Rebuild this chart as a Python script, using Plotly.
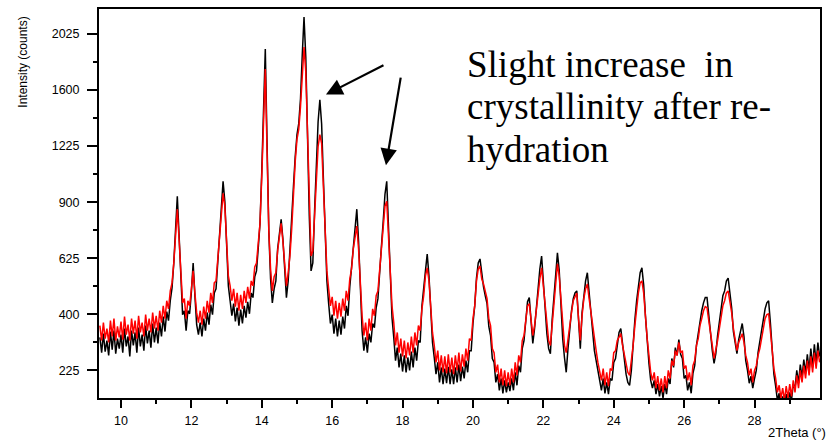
import numpy as np
import plotly.graph_objects as go

# 2-theta scan: start 9.40 deg, step 0.05 deg
SCAN_START = 9.40
SCAN_STEP = 0.05

# Intensity (counts), re-hydrated sample (red)
rehydrated_counts = [
    361, 312, 371, 318, 351, 306, 378, 325, 385, 312, 358, 322, 375, 315, 392, 331, 364, 312, 385, 334,
    378, 318, 395, 338, 371, 325, 399, 344, 385, 338, 406, 351, 395,
    344, 413, 371, 431, 385, 450, 420, 488, 520, 604, 742, 863, 714, 549, 442, 458, 385, 450, 431, 496,
    570, 480, 406, 371, 413, 364, 428, 385, 450, 406, 480, 442, 520, 528, 622, 681, 827, 948, 879, 704,
    549, 508, 450, 496, 428, 480, 413, 473, 420, 488, 442, 504, 458, 528, 508, 587, 604, 695, 791, 1043,
    1449, 1754, 1192, 752, 578, 488, 545, 562, 658, 714, 791, 704, 591, 508, 562, 635, 762, 959, 1131, 1267,
    1331, 1483, 1747, 1922, 1732, 1254, 853, 635, 658, 827, 1043, 1222, 1298, 1241, 987, 728, 570, 496, 431, 465,
    395, 450, 385, 442, 392, 458, 413, 488, 450, 536, 578, 667, 728, 777, 667, 508, 395, 328, 371, 312,
    385, 344, 420, 395, 469, 488, 578, 658, 777, 879, 905, 742, 570, 431, 371, 297, 338, 275, 318, 264,
    312, 258, 306, 267, 325, 275, 338, 297, 361, 344, 420, 469, 549, 583, 528, 431, 338, 297, 247, 281,
    225, 267, 220, 264, 217, 270, 220, 261, 215, 267, 225, 275, 222, 270, 235, 287, 252, 318, 312, 385,
    431, 528, 578, 591, 536, 516, 488, 458, 385, 361, 287, 275, 220, 241, 194, 230, 187, 225, 185, 220,
    187, 230, 194, 247, 212, 267, 247, 312, 328, 385, 431, 439, 385, 328, 361, 413, 488, 536, 583, 508,
    431, 361, 312, 297, 371, 442, 536, 600, 549, 450, 351, 297, 275, 318, 371, 406, 450, 469, 480, 385,
    312, 395, 458, 496, 516, 458, 406, 361, 312, 281, 247, 225, 199, 230, 187, 220, 185, 230, 225, 275,
    281, 312, 325, 334, 297, 267, 241, 220, 212, 247, 297, 361, 420, 480, 520, 528, 480, 385, 318, 267,
    220, 199, 220, 180, 210, 175, 204, 170, 210, 180, 225, 204, 252, 238, 281, 267, 306, 275, 281, 230,
    238, 199, 220, 187, 238, 252, 297, 318, 361, 385, 413, 428, 424, 378, 328, 297, 258, 281, 312, 351,
    385, 431, 450, 480, 488, 450, 406, 351, 312, 281, 306, 318, 334, 306, 267, 247, 212, 230, 194, 225,
    238, 267, 287, 318, 351, 385, 399, 402, 344, 287, 230, 204, 170, 187, 157, 180, 152, 185, 157, 190,
    161, 199, 170, 212, 180, 225, 194, 238, 204, 252, 212, 264, 220, 275, 230, 281, 247,
]

# Intensity (counts), sample before re-hydration (black)
original_counts = [
    322, 275, 334, 278, 312, 267, 341, 284, 344, 272, 318, 287, 331, 275, 351, 294, 325, 264, 344, 297,
    338, 275, 354, 294, 331, 281, 361, 303, 344, 290, 368, 306, 354,
    303, 371, 325, 392, 341, 410, 378, 450, 500, 604, 772, 932, 733, 528, 399, 413, 344, 413, 402, 484,
    604, 469, 364, 331, 371, 325, 385, 344, 406, 364, 435, 399, 480, 496, 609, 681, 853, 1015, 905, 690,
    508, 450, 395, 439, 375, 424, 361, 417, 368, 431, 388, 446, 402, 480, 462, 545, 570, 672, 791, 1073,
    1531, 1906, 1241, 752, 536, 442, 496, 528, 667, 728, 811, 714, 557, 462, 528, 649, 786, 987, 1161, 1298,
    1369, 1538, 1860, 2162, 1845, 1254, 827, 570, 604, 853, 1131, 1382, 1531, 1369, 1032, 728, 528, 439, 368, 399,
    334, 385, 325, 378, 331, 392, 351, 431, 395, 504, 591, 690, 767, 863, 704, 488, 344, 281, 322, 275,
    334, 306, 368, 354, 424, 458, 591, 681, 801, 943, 1015, 781, 570, 388, 322, 252, 290, 233, 272, 222,
    267, 220, 261, 225, 278, 233, 290, 252, 312, 306, 431, 488, 570, 644, 549, 420, 306, 261, 215, 247,
    194, 233, 190, 230, 192, 235, 190, 228, 190, 233, 194, 241, 197, 235, 204, 252, 220, 281, 281, 368,
    431, 540, 604, 622, 549, 504, 469, 439, 358, 328, 258, 247, 194, 215, 175, 204, 168, 199, 170, 194,
    173, 204, 175, 220, 187, 238, 220, 287, 312, 392, 446, 462, 392, 303, 351, 431, 520, 578, 635, 520,
    413, 334, 287, 272, 381, 465, 570, 649, 574, 431, 318, 261, 220, 287, 364, 413, 458, 480, 488, 364,
    287, 406, 480, 528, 562, 477, 388, 334, 281, 252, 220, 199, 175, 204, 168, 194, 166, 204, 199, 247,
    258, 303, 338, 351, 303, 244, 215, 194, 187, 225, 306, 381, 450, 512, 562, 583, 512, 395, 300, 244,
    199, 180, 199, 166, 190, 161, 185, 157, 190, 166, 204, 190, 258, 233, 290, 267, 315, 270, 258, 204,
    212, 175, 194, 168, 217, 238, 297, 334, 381, 413, 442, 462, 462, 399, 318, 281, 244, 272, 328, 378,
    420, 469, 488, 528, 540, 488, 424, 341, 303, 272, 315, 344, 368, 325, 252, 225, 192, 210, 180, 204,
    225, 275, 306, 344, 385, 420, 442, 450, 371, 287, 215, 185, 152, 168, 143, 161, 140, 166, 143, 170,
    152, 190, 180, 225, 192, 241, 207, 255, 217, 270, 225, 287, 233, 300, 244, 306, 264,
]

# Square-root intensity axis: ticks at perfect squares
y_tick_counts = [225, 400, 625, 900, 1225, 1600, 2025]
x_tick_values = [10, 12, 14, 16, 18, 20, 22, 24, 26, 28]

annotation_lines = ["Slight increase  in", "crystallinity after re-", "hydration"]

X_RANGE = [9.375, 29.86]
Y_RANGE_COUNTS = [157.3, 2230.0]


def scan_axis(n):
    return np.round(SCAN_START + SCAN_STEP * np.arange(n), 2)


fig = go.Figure()
fig.add_trace(go.Scatter(
    x=scan_axis(len(original_counts)), y=np.sqrt(original_counts),
    mode="lines", line=dict(color="#000000", width=1.5), showlegend=False,
))
fig.add_trace(go.Scatter(
    x=scan_axis(len(rehydrated_counts)), y=np.sqrt(rehydrated_counts),
    mode="lines", line=dict(color="#ff0000", width=1.5), showlegend=False,
))

tick_font = dict(family="Liberation Sans, Arial, sans-serif", size=12.5, color="#000000")

fig.update_xaxes(
    range=X_RANGE, tickmode="array", tickvals=x_tick_values,
    ticktext=[str(v) for v in x_tick_values],
    showline=True, linecolor="#000000", linewidth=2, mirror=True,
    ticks="outside", ticklen=8, tickwidth=2, tickcolor="#000000",
    minor=dict(tickmode="linear", tick0=0, dtick=1, ticks="outside",
               ticklen=4, tickwidth=2, tickcolor="#000000"),
    showgrid=False, zeroline=False, tickfont=tick_font, ticklabelstandoff=2,
)
fig.update_yaxes(
    range=list(np.sqrt(Y_RANGE_COUNTS)), tickmode="array",
    tickvals=list(np.sqrt(y_tick_counts)), ticktext=[str(v) for v in y_tick_counts],
    showline=True, linecolor="#000000", linewidth=2, mirror=True,
    ticks="outside", ticklen=10, tickwidth=2, tickcolor="#000000",
    minor=dict(tickmode="linear", tick0=0, dtick=2.5, ticks="outside",
               ticklen=4, tickwidth=2, tickcolor="#000000"),
    showgrid=False, zeroline=False, tickfont=tick_font, ticklabelstandoff=5,
)

label_font = dict(family="Liberation Sans, Arial, sans-serif", size=12, color="#000000")
serif_font = dict(family="Liberation Serif, Times New Roman, serif", size=37, color="#000000")

annotations = [
    dict(text="Intensity (counts)", xref="paper", yref="paper", x=-0.1054, y=0.862,
         textangle=-90, showarrow=False, font=label_font, xanchor="center", yanchor="middle"),
    dict(text="2Theta (°)", xref="paper", yref="paper", x=0.9677, y=-0.0895,
         showarrow=False, font=dict(label_font, size=13), xanchor="center", yanchor="middle"),
    # arrows pointing at the two highlighted reflections
    dict(text="", xref="paper", yref="paper", x=0.3148, y=0.780, ax=59, ay=-30,
         showarrow=True, arrowhead=2, arrowsize=1.5, arrowwidth=2.2, arrowcolor="#000000"),
    dict(text="", xref="paper", yref="paper", x=0.398, y=0.5985, ax=15, ay=-89,
         showarrow=True, arrowhead=2, arrowsize=1.5, arrowwidth=2.2, arrowcolor="#000000"),
]
line_y = [0.858, 0.750, 0.640]
for txt, yy in zip(annotation_lines, line_y):
    annotations.append(dict(text=txt.replace("  ", "\u00a0 "), xref="paper", yref="paper",
                            x=(465 - 99) / 721, y=yy, xanchor="left", yanchor="middle",
                            showarrow=False, font=serif_font))

fig.update_layout(
    width=833, height=442,
    margin=dict(l=99, r=13, t=7, b=44),
    paper_bgcolor="#ffffff", plot_bgcolor="#ffffff",
    annotations=annotations,
)

fig.write_html("out.html")
